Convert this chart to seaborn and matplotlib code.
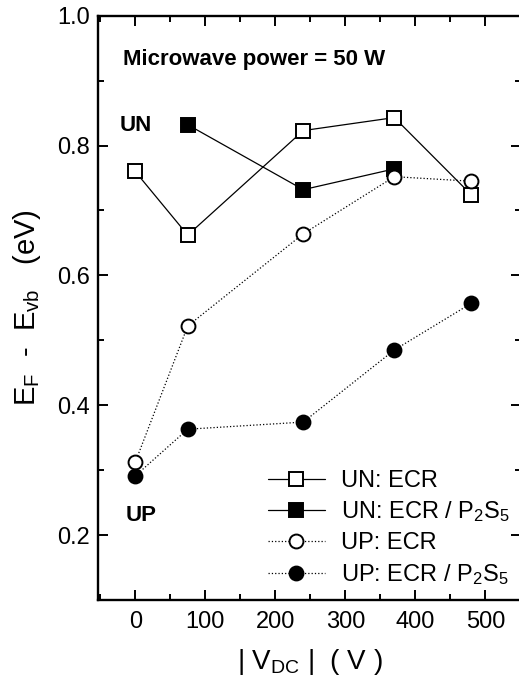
import numpy as np
import pandas as pd
import matplotlib
matplotlib.use("Agg")
import matplotlib.pyplot as plt
import seaborn as sns
from matplotlib.ticker import MultipleLocator

# Data
vdc_all = [0, 75, 240, 370, 480]
vdc_p2s5_un = [75, 240, 370]
un_ecr = [0.76, 0.662, 0.823, 0.843, 0.724]
un_ecr_p2s5 = [0.832, 0.732, 0.764]
up_ecr = [0.312, 0.522, 0.664, 0.752, 0.745]
up_ecr_p2s5 = [0.291, 0.363, 0.374, 0.485, 0.557]

labels = ["UN: ECR", r"UN: ECR / P$_2$S$_5$", "UP: ECR", r"UP: ECR / P$_2$S$_5$"]

sns.set_theme(style="ticks", rc={"axes.edgecolor": "black", "xtick.color": "black",
                                 "ytick.color": "black", "text.color": "black",
                                 "axes.labelcolor": "black"})
plt.rcParams['font.family'] = ['Liberation Sans', 'DejaVu Sans']
plt.rcParams['mathtext.fontset'] = 'custom'
plt.rcParams['mathtext.rm'] = 'Liberation Sans'
plt.rcParams['mathtext.it'] = 'Liberation Sans'

fig = plt.figure(figsize=(5.19, 6.81), dpi=100)
ax = fig.add_axes([0.189, 0.119, 0.815, 0.858])

series = [
    (vdc_all, un_ecr, labels[0], 's', 'white', '-'),
    (vdc_p2s5_un, un_ecr_p2s5, labels[1], 's', 'black', '-'),
    (vdc_all, up_ecr, labels[2], 'o', 'white', ':'),
    (vdc_all, up_ecr_p2s5, labels[3], 'o', 'black', ':'),
]
for x, y, lab, m, fc, ls in series:
    df = pd.DataFrame({"vdc": x, "e": y})
    sns.lineplot(data=df, x="vdc", y="e", ax=ax, color="black", linestyle=ls,
                 linewidth=0.9, marker=m, markersize=10, markerfacecolor=fc,
                 markeredgecolor="black", markeredgewidth=1.4, label=lab)

ax.set_xlim(-53, 551)
ax.set_ylim(0.1, 1.0)
ax.xaxis.set_major_locator(MultipleLocator(100))
ax.xaxis.set_minor_locator(MultipleLocator(50))
ax.yaxis.set_major_locator(MultipleLocator(0.2))
ax.yaxis.set_minor_locator(MultipleLocator(0.1))
ax.tick_params(which='both', direction='in', top=True, right=True, width=1.4)
ax.tick_params(which='major', length=7, labelsize=17)
ax.tick_params(axis='y', which='major', pad=6)
ax.tick_params(axis='x', which='major', pad=8)
ax.tick_params(which='minor', length=4)
for s in ax.spines.values():
    s.set_linewidth(1.7)

ax.set_xlabel(r"| V$_{\mathregular{DC}}$ |  ( V )", fontsize=20, labelpad=10)
ax.set_ylabel(r"E$_{\mathregular{F}}$  -  E$_{\mathregular{vb}}$   (eV)", fontsize=21, labelpad=10)

ax.text(0.06, 0.925, "Microwave power = 50 W", transform=ax.transAxes,
        fontsize=16, fontweight='bold', va='center')
ax.text(0.05, 0.812, "UN", transform=ax.transAxes, fontsize=16, fontweight='bold', va='center')
ax.text(0.065, 0.145, "UP", transform=ax.transAxes, fontsize=16, fontweight='bold', va='center')

leg = ax.legend(loc='lower right', frameon=False, fontsize=17, handlelength=2.4,
                labelspacing=0.33, handletextpad=0.7, borderaxespad=0.15,
                bbox_to_anchor=(1.005, 0.0))

fig.savefig("out.png", dpi=100)
